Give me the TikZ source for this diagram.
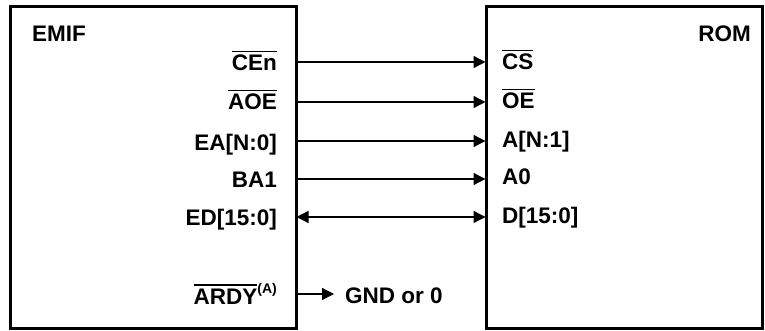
\documentclass[tikz,border=0pt]{standalone}
\usepackage{fontspec}
\setmainfont{Liberation Sans}
\usetikzlibrary{arrows.meta}
\newcommand\ovl[1]{\vbox{\hrule height 1.6pt\kern 2.8pt\hbox{#1}}}
\begin{document}
\begin{tikzpicture}[x=1pt,y=-1pt,
  box/.style={draw, line width=3pt, outer sep=0pt, inner sep=0pt},
  lbl/.style={font=\fontsize{22.5}{26}\selectfont\bfseries, inner sep=0pt},
  sig/.style={line width=1.3pt, -{Triangle[length=12pt,width=12pt]}, shorten >=0.5pt},
  bidir/.style={line width=1.3pt, {Triangle[length=12pt,width=12pt]}-{Triangle[length=12pt,width=12pt]}, shorten >=0.5pt, shorten <=0.5pt}]
\useasboundingbox (0,0) rectangle (765,331);
\node[box, minimum width=286pt, minimum height=321pt] (emif) at (153,167.5) {};
\node[box, minimum width=276pt, minimum height=321pt] (rom) at (624,167.5) {};
\node[lbl, anchor=base west] (emiflbl) at (32,42) {EMIF};
\node[lbl, anchor=base east] (romlbl) at (751,42) {ROM};
% left labels
\node[lbl, anchor=base east] (cen) at (277,71) {\ovl{CEn}};
\node[lbl, anchor=base east] (aoe) at (277,110) {\ovl{AOE}};
\node[lbl, anchor=base east] (ea) at (277,151) {EA[N:0]};
\node[lbl, anchor=base east] (ba) at (277,188) {BA1};
\node[lbl, anchor=base east] (ed) at (277,225) {ED[15:0]};
\node[lbl, anchor=base east] (ardy) at (277,304) {\ovl{ARDY}\raisebox{11pt}{\fontsize{14}{16}\selectfont (A)}};
% right labels
\node[lbl, anchor=base west] (cs) at (502,70) {\ovl{CS}};
\node[lbl, anchor=base west] (oe) at (502,109) {\ovl{OE}};
\node[lbl, anchor=base west] (an) at (502,148) {A[N:1]};
\node[lbl, anchor=base west] (a0) at (502,185) {A0};
\node[lbl, anchor=base west] (d) at (502,223) {D[15:0]};
\node[lbl, anchor=base west] (gnd) at (345,303) {GND or 0};
% connectors
\draw[sig] (emif.east |- 0,62) -- (rom.west |- 0,62);
\draw[sig] (emif.east |- 0,102) -- (rom.west |- 0,102);
\draw[sig] (emif.east |- 0,141) -- (rom.west |- 0,141);
\draw[sig] (emif.east |- 0,179) -- (rom.west |- 0,179);
\draw[bidir] (emif.east |- 0,217) -- (rom.west |- 0,217);
\draw[sig, shorten >=11pt] (emif.east |- 0,294) -- (gnd.west |- 0,294);
\end{tikzpicture}
\end{document}
